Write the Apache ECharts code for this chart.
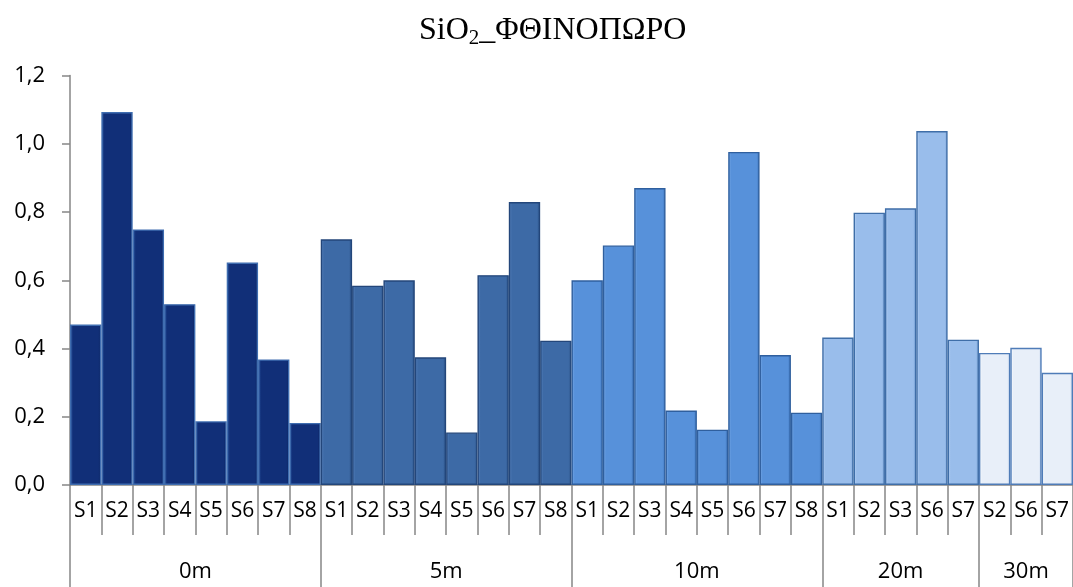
<!DOCTYPE html>
<html>
<head>
<meta charset="utf-8">
<script src="https://cdn.jsdelivr.net/npm/echarts@6/dist/echarts.min.js"></script>
<style>html,body{margin:0;padding:0;background:#fff}#c{width:1073px;height:587px}</style>
</head>
<body>
<div id="c"></div>
<script>
var groups = ['0m', '5m', '10m', '20m', '30m'];
var groupStations = [
  ['S1','S2','S3','S4','S5','S6','S7','S8'],
  ['S1','S2','S3','S4','S5','S6','S7','S8'],
  ['S1','S2','S3','S4','S5','S6','S7','S8'],
  ['S1','S2','S3','S6','S7'],
  ['S2','S6','S7']
];
var values0m  = [0.47, 1.093, 0.749, 0.53, 0.187, 0.652, 0.368, 0.182];
var values5m  = [0.72, 0.584, 0.60, 0.374, 0.154, 0.615, 0.829, 0.423];
var values10m = [0.60, 0.702, 0.87, 0.218, 0.162, 0.976, 0.381, 0.212];
var values20m = [0.432, 0.798, 0.811, 1.037, 0.426];
var values30m = [0.387, 0.402, 0.329];
var yTicks = ['0,0','0,2','0,4','0,6','0,8','1,0','1,2'];

var groupValues = [values0m, values5m, values10m, values20m, values30m];
var groupColors = [
  ['#2a56a0', '#112f78', '#0b2460'],
  ['#5b86c0', '#3d6aa6', '#2d5489'],
  ['#7aaae6', '#5791da', '#3f76bd'],
  ['#b9d2f2', '#99bdeb', '#7ea6d8'],
  ['#ffffff', '#e8eff9', '#c9d8ee']
];
var borderColors = ['#3f6db0', '#23467a', '#2f5f9e', '#3f6ea8', '#4f7cb8'];

var cats = [], data = [], tickVals = [0], labelVals = [];
var pos = 0;
groupStations.forEach(function (st, g) {
  labelVals.push(pos + st.length / 2);
  st.forEach(function (s, i) {
    cats.push(s);
    var c = groupColors[g];
    data.push({
      value: groupValues[g][i],
      itemStyle: {
        color: new echarts.graphic.LinearGradient(0, 0, 1, 0, [
          {offset: 0, color: c[0]}, {offset: 0.1, color: c[1]},
          {offset: 0.9, color: c[1]}, {offset: 1, color: c[2]}
        ]),
        borderColor: borderColors[g],
        borderWidth: 1.4
      }
    });
  });
  pos += st.length;
  tickVals.push(pos);
});

var chart = echarts.init(document.getElementById('c'));
chart.setOption({
  animation: false,
  title: {
    text: 'SiO{sub|2}_\u03A6\u0398\u0399\u039D\u039F\u03A0\u03A9\u03A1\u039F',
    left: 414,
    top: 8,
    textStyle: {
      fontFamily: 'Liberation Serif',
      fontSize: 32,
      fontWeight: 'normal',
      color: '#000',
      rich: {
        sub: {fontFamily: 'Liberation Serif', fontSize: 21, color: '#000', verticalAlign: 'bottom', padding: [15, 0, 0, 0]}
      }
    }
  },
  grid: {left: 70, right: 0, top: 75.5, bottom: 102},
  xAxis: [{
    type: 'category',
    data: cats,
    axisLine: {show: true, lineStyle: {color: '#868686', width: 1.5}},
    axisTick: {show: true, interval: 0, length: 50, lineStyle: {color: '#868686', width: 1.5}},
    axisLabel: {interval: 0, margin: 16, fontFamily: 'Open Sans', fontSize: 21, color: '#000'}
  }, {
    type: 'value',
    min: 0,
    max: pos,
    position: 'bottom',
    axisLine: {show: false},
    splitLine: {show: false},
    axisTick: {show: true, customValues: tickVals, length: 104, lineStyle: {color: '#868686', width: 1.5}},
    axisLabel: {
      customValues: labelVals, margin: 76, fontFamily: 'Open Sans', fontSize: 22, color: '#000',
      formatter: function (v) { var i = labelVals.indexOf(v); return i >= 0 ? groups[i] : ''; }
    }
  }],
  yAxis: {
    type: 'value',
    min: 0, max: 1.2, interval: 0.2,
    axisLine: {show: true, lineStyle: {color: '#868686', width: 1.5}},
    axisTick: {show: true, length: 8, lineStyle: {color: '#868686', width: 1.5}},
    splitLine: {show: false},
    axisLabel: {
      margin: 25, fontFamily: 'Open Sans', fontSize: 22, color: '#000',
      formatter: function (v) { return yTicks[Math.round(v / 0.2)]; }
    }
  },
  series: [{
    type: 'bar',
    data: data,
    barWidth: '100%',
    barCategoryGap: '0%',
    xAxisIndex: 0
  }]
});
</script>
</body>
</html>
